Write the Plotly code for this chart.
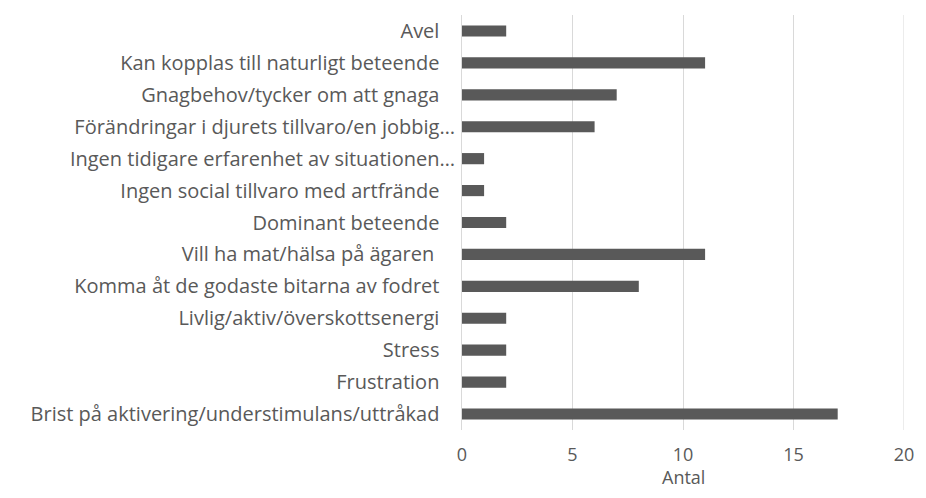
import plotly.graph_objects as go

# categories listed top to bottom as they appear in the chart
categories = [
    'Avel',
    'Kan kopplas till naturligt beteende',
    'Gnagbehov/tycker om att gnaga',
    'Förändringar i djurets tillvaro/en jobbig…',
    'Ingen tidigare erfarenhet av situationen…',
    'Ingen social tillvaro med artfrände',
    'Dominant beteende',
    'Vill ha mat/hälsa på ägaren ',
    'Komma åt de godaste bitarna av fodret',
    'Livlig/aktiv/överskottsenergi',
    'Stress',
    'Frustration',
    'Brist på aktivering/understimulans/uttråkad',
]
antal = [2, 11, 7, 6, 1, 1, 2, 11, 8, 2, 2, 2, 17]

x_ticks = [0, 5, 10, 15, 20]

GREY_TEXT = '#595959'
GRID = '#d9d9d9'
FONT = 'Open Sans'
FS = 20
FS_X = 18


# Excel pads non-truncated labels a bit further from the axis than the "…" ones
def pad_label(s):
    if s.endswith('…'):
        return s
    return s.rstrip() + '\u00a0' * (3 if s == s.rstrip() else 4)


labels = [pad_label(c) for c in categories]

fig = go.Figure()
fig.add_trace(go.Bar(
    x=antal, y=labels, orientation='h',
    marker=dict(color='#595959', line=dict(width=0)),
    hoverinfo='x+y'))

# page body has an 8px margin, so the figure is shrunk and shifted by that
fig.update_layout(
    width=910, height=482,
    margin=dict(l=454, r=14, t=7, b=60, autoexpand=False),
    plot_bgcolor='white', paper_bgcolor='white',
    bargap=0.65,
    showlegend=False,
    font=dict(family=FONT, color=GREY_TEXT, size=FS),
    xaxis=dict(
        range=[0, 20], tickvals=x_ticks, showgrid=True, gridcolor=GRID,
        gridwidth=1, zeroline=False, showline=False,
        ticklabelstandoff=12,
        tickfont=dict(size=FS_X, color=GREY_TEXT),
        fixedrange=True),
    yaxis=dict(
        autorange='reversed', showgrid=False, showline=True,
        linecolor=GRID, linewidth=1, ticks='',
        ticklabelstandoff=2,
        tickfont=dict(size=FS, color=GREY_TEXT),
        fixedrange=True),
)

# plotly drops the gridline sitting on the right edge; draw it back
fig.add_shape(
    type='line', xref='x', yref='paper', x0=x_ticks[-1], x1=x_ticks[-1],
    y0=0, y1=1, line=dict(color=GRID, width=1), layer='below')

# x axis title
fig.add_annotation(
    text='Antal', x=0.5, y=0, xref='paper', yref='paper',
    xanchor='center', yanchor='middle', yshift=-47, showarrow=False,
    font=dict(size=FS_X, color=GREY_TEXT))

fig.write_html('out.html')
